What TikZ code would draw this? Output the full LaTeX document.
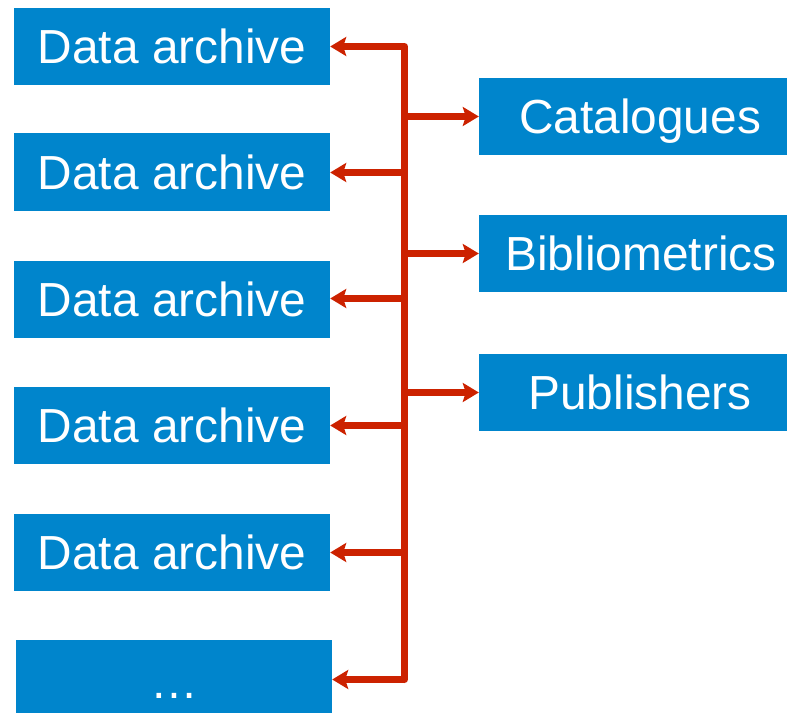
\documentclass[tikz,border=0pt]{standalone}
\usepackage{fontspec}
\setmainfont{Liberation Sans}
\usetikzlibrary{arrows.meta}
\definecolor{boxblue}{RGB}{0,133,204}
\definecolor{arrred}{RGB}{204,34,0}
\tikzset{
  box/.style={fill=boxblue, draw=none, text=white, inner sep=0pt,
    font=\fontsize{48}{50}\selectfont, text height=34bp, text depth=0pt},
  leftbox/.style={box, minimum width=316bp, minimum height=77bp},
  rightbox/.style={box, minimum width=308bp, minimum height=77bp},
  conn/.style={draw=arrred, line width=7bp, line cap=round, line join=round},
  arr/.style={conn, line cap=butt, -{Stealth[length=16bp,width=19bp,inset=3bp]}},
}
\begin{document}
\begin{tikzpicture}[x=1bp,y=-1bp]
\useasboundingbox (0,0) rectangle (787,714);
% left boxes
\node[leftbox] (a1) at (172,46.5) {Data archive};
\node[leftbox] (a2) at (172,172) {Data archive};
\node[leftbox] (a3) at (172,299) {Data archive};
\node[leftbox] (a4) at (172,425) {Data archive};
\node[leftbox] (a5) at (172,552.5) {Data archive};
\node[leftbox, minimum height=73bp, text height=43bp] (a6) at (174,676.5) {…};
% right boxes
\node[rightbox] (c1) at (633,116.5) {\hspace*{14bp}Catalogues};
\node[rightbox] (c2) at (633,253.5) {\hspace*{16bp}Bibliometrics};
\node[rightbox] (c3) at (633,392.5) {\hspace*{14bp}Publishers};
% trunk junctions
\coordinate (j1) at (404.5,46.5);
\coordinate (j2) at (404.5,172.5);
\coordinate (j3) at (404.5,298.5);
\coordinate (j4) at (404.5,425.5);
\coordinate (j5) at (404.5,552.5);
\coordinate (j6) at (404.5,679.5);
\coordinate (k1) at (404.5,116.5);
\coordinate (k2) at (404.5,253.5);
\coordinate (k3) at (404.5,392.5);
% trunk
\draw[conn] (j1) -- (j6);
% arrows to left
\draw[arr] (j1) -- (j1 -| a1.east);
\draw[arr] (j2) -- (j2 -| a2.east);
\draw[arr] (j3) -- (j3 -| a3.east);
\draw[arr] (j4) -- (j4 -| a4.east);
\draw[arr] (j5) -- (j5 -| a5.east);
\draw[arr] (j6) -- (j6 -| a6.east);
% arrows to right
\draw[arr] (k1) -- (k1 -| c1.west);
\draw[arr] (k2) -- (k2 -| c2.west);
\draw[arr] (k3) -- (k3 -| c3.west);
\end{tikzpicture}
\end{document}
